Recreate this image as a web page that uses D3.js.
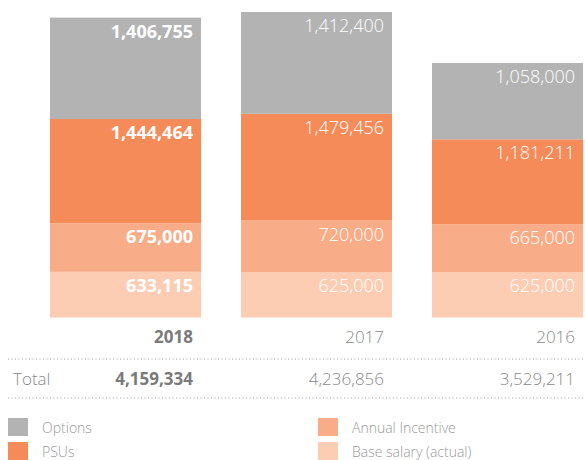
<!DOCTYPE html>
<html>
<head>
<meta charset="utf-8">
<script src="https://cdn.jsdelivr.net/npm/d3@7"></script>
<style>
  body { margin: 0; background: #fff; }
  text { font-family: "Open Sans", "Noto Sans", sans-serif; }
</style>
</head>
<body>
<div class="chart"></div>
<script>
// years, shown left to right
const years = ['2018', '2017', '2016'];
// stack order from bottom to top
const keys = ['base', 'annual', 'psu', 'options'];
const base = [633115, 625000, 625000];
const annual = [675000, 720000, 665000];
const psu = [1444464, 1479456, 1181211];
const options = [1406755, 1412400, 1058000];
const totals = [4159334, 4236856, 3529211];

const colors = {options: '#b3b3b3', psu: '#f68b5a', annual: '#f8ad88', base: '#fccdb3'};
const legendItems = [
    {key: 'options', label: 'Options', col: 0, row: 0},
    {key: 'psu', label: 'PSUs', col: 0, row: 1},
    {key: 'annual', label: 'Annual Incentive', col: 1, row: 0},
    {key: 'base', label: 'Base salary (actual)', col: 1, row: 1}
];

const width = 585, height = 460;
const svg = d3.select('.chart').append('svg')
    .attr('width', width)
    .attr('height', height);

const data = years.map((y, i) => ({
    year: y, base: base[i], annual: annual[i], psu: psu[i], options: options[i], total: totals[i]
}));

const x = d3.scaleBand()
    .domain(years)
    .range([50, 583])
    .paddingInner(0.2094)
    .paddingOuter(0);

const y = d3.scaleLinear()
    .domain([0, 4236856])
    .range([317.5, 12]);

const stacked = d3.stack().keys(keys)(data);
const fmt = d3.format(',');

// bars
const layer = svg.selectAll('.layer')
    .data(stacked)
    .enter().append('g')
    .attr('class', 'layer')
    .attr('fill', d => colors[d.key]);

layer.selectAll('rect')
    .data(d => d)
    .enter().append('rect')
    .attr('x', d => x(d.data.year))
    .attr('width', x.bandwidth())
    .attr('y', d => y(d[1]))
    .attr('height', d => y(d[0]) - y(d[1]));

// segment labels
stacked.forEach(s => {
    svg.selectAll('.lbl-' + s.key)
        .data(s)
        .enter().append('text')
        .attr('x', d => x(d.data.year) + x.bandwidth() - 8)
        .attr('y', d => y(d[1]) + 20)
        .attr('text-anchor', 'end')
        .attr('fill', '#fff')
        .style('font-size', '18px')
        .style('font-weight', (d, i) => i === 0 ? 700 : 300)
        .text(d => fmt(d[1] - d[0]));
});

// year labels
svg.selectAll('.year')
    .data(data)
    .enter().append('text')
    .attr('x', d => x(d.year) + x.bandwidth() - 8)
    .attr('y', 343)
    .attr('text-anchor', 'end')
    .attr('fill', (d, i) => i === 0 ? '#7a7a7a' : '#8a8a8a')
    .style('font-size', '17px')
    .style('font-weight', (d, i) => i === 0 ? 700 : 300)
    .text(d => d.year);

// dotted rules
[359, 398].forEach(ly => {
    svg.append('line')
        .attr('x1', 8).attr('x2', 583)
        .attr('y1', ly).attr('y2', ly)
        .attr('stroke', '#a0a0a0')
        .attr('stroke-width', 1)
        .attr('stroke-dasharray', '1,2.5');
});

// totals row
svg.append('text')
    .attr('x', 13)
    .attr('y', 385)
    .attr('fill', '#8a8a8a')
    .style('font-size', '17px')
    .style('font-weight', 300)
    .text('Total');

svg.selectAll('.total')
    .data(data)
    .enter().append('text')
    .attr('x', d => x(d.year) + x.bandwidth() - 8)
    .attr('y', 385)
    .attr('text-anchor', 'end')
    .attr('fill', (d, i) => i === 0 ? '#7a7a7a' : '#8a8a8a')
    .style('font-size', '17px')
    .style('font-weight', (d, i) => i === 0 ? 700 : 300)
    .text(d => fmt(d.total));

// legend
const legend = svg.selectAll('.legend')
    .data(legendItems)
    .enter().append('g')
    .attr('transform', d => 'translate(' + (d.col ? 318 : 8) + ',' + (418 + d.row * 24) + ')');

legend.append('rect')
    .attr('width', 20)
    .attr('height', 18)
    .attr('fill', d => colors[d.key]);

legend.append('text')
    .attr('x', 34)
    .attr('y', 15)
    .attr('fill', '#999')
    .style('font-size', '14px')
    .style('font-weight', 300)
    .text(d => d.label);
</script>
</body>
</html>
